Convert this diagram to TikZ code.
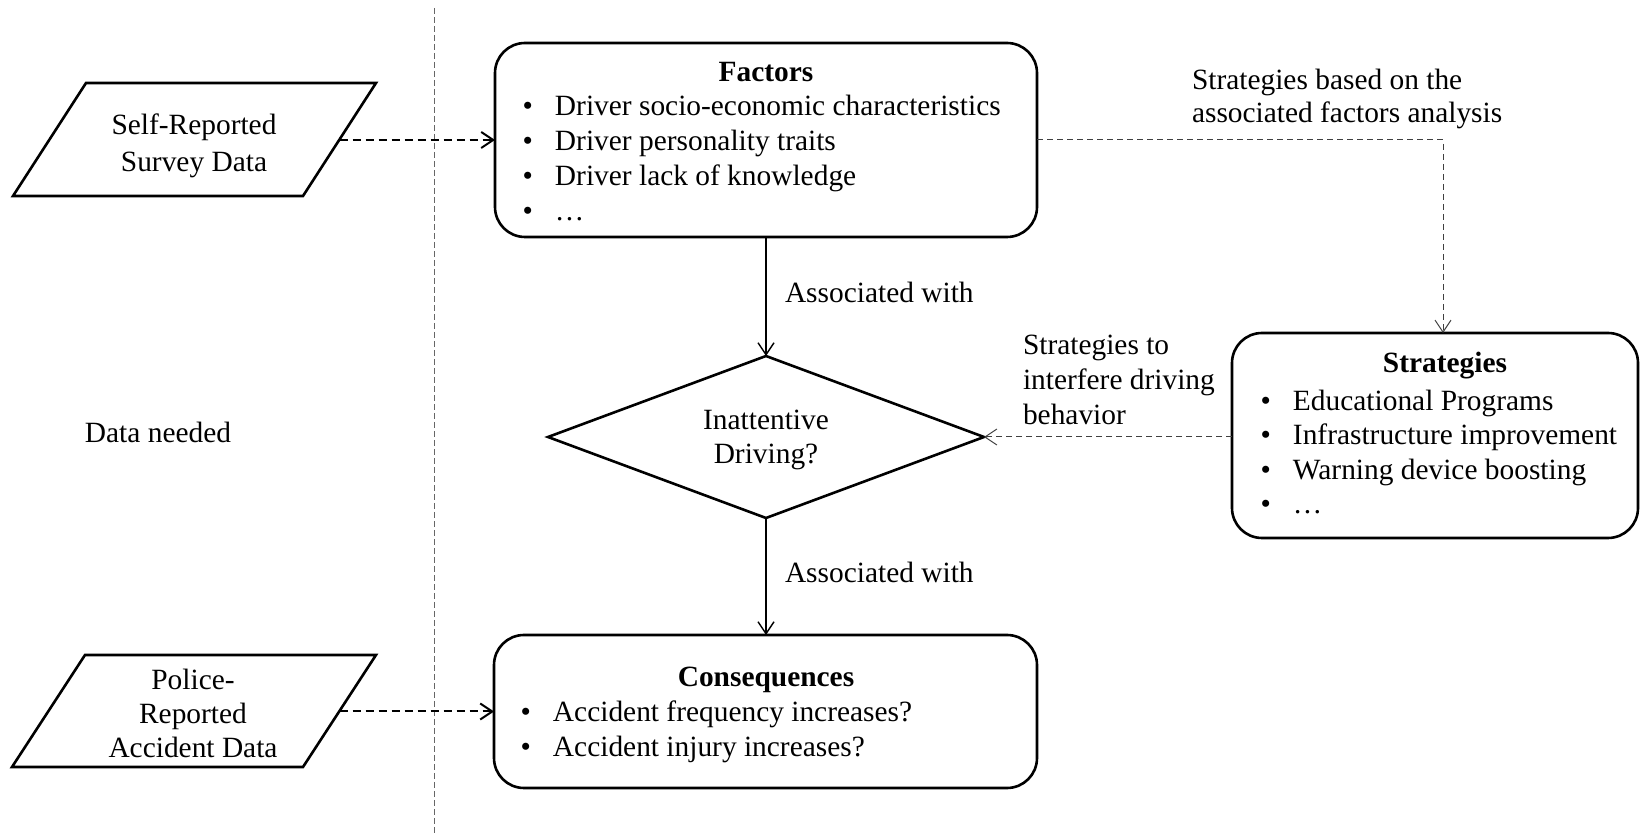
\documentclass[tikz,border=0pt]{standalone}
\usepackage{fontspec}
\setmainfont{Liberation Serif}
\usetikzlibrary{arrows.meta,shapes.geometric}
\newcommand\mybul{\llap{\textbullet\hspace{11pt}}}
\begin{document}
\begin{tikzpicture}[x=0.5pt,y=-0.5pt,
  font=\fontsize{14.7}{17.5}\selectfont,
  every node/.style={inner sep=0pt, outer sep=0pt},
  box/.style={draw, line width=1.3pt, rounded corners=15pt, rectangle},
  diashape/.style={draw, line width=1.3pt, diamond},
  paral/.style={draw, line width=1.3pt, line join=miter},
  txt/.style={anchor=base},
  txtl/.style={anchor=base west},
  ttl/.style={anchor=base, font=\fontsize{14.7}{17.5}\selectfont\bfseries},
  tip/.style={-{Straight Barb[length=6pt,width=8pt]}},
  solidc/.style={tip, line width=0.7pt},
  thickdash/.style={tip, line width=1pt, dash pattern=on 4pt off 2.5pt},
  thindash/.style={tip, line width=0.5pt, dash pattern=on 3pt off 2pt, draw=black!75},
  divider/.style={line width=0.5pt, dash pattern=on 3pt off 1.5pt, draw=black!60}
]
\useasboundingbox (0,0) rectangle (1640,833);

% divider
\coordinate (dtop) at (434,8);
\coordinate (dbot) at (434,833);
\draw[divider] (dtop) -- (dbot);

% parallelograms
\coordinate (p1a) at (86,83);
\coordinate (p1b) at (376,83);
\coordinate (p1c) at (303,196);
\coordinate (p1d) at (13,196);
\draw[paral] (p1a) -- (p1b) -- (p1c) -- (p1d) -- cycle;
\coordinate (p1e) at (339.5,140);

\coordinate (p2a) at (85,655);
\coordinate (p2b) at (376,655);
\coordinate (p2c) at (303,767);
\coordinate (p2d) at (12,767);
\draw[paral] (p2a) -- (p2b) -- (p2c) -- (p2d) -- cycle;
\coordinate (p2e) at (339.5,711.5);

\node[txt] (s1) at (194,135) {Self-Reported};
\node[txt] (s2) at (194,172) {Survey Data};
\node[txt] (r1) at (193,690) {Police-};
\node[txt] (r2) at (193,724) {Reported};
\node[txt] (r3) at (193,758) {Accident Data};
\node[txt] (dn) at (158,443) {Data needed};

% boxes
\node[box, minimum width=271pt, minimum height=97pt] (factors) at (766,140) {};
\node[box, minimum width=271.5pt, minimum height=76.5pt] (cons) at (765.5,711.5) {};
\node[box, minimum width=203pt, minimum height=102.5pt] (strat) at (1435,435.5) {};
\node[diashape, minimum width=218pt, minimum height=81pt] (decision) at (766,437) {};

% factors text
\node[ttl] (ft) at (766,82) {Factors};
\node[txtl] (f1) at (555,116) {\mybul Driver socio-economic characteristics};
\node[txtl] (f2) at (555,151) {\mybul Driver personality traits};
\node[txtl] (f3) at (555,186) {\mybul Driver lack of knowledge};
\node[txtl] (f4) at (555,221) {\mybul \dots};

% consequences text
\node[ttl] (ct) at (766,687) {Consequences};
\node[txtl] (c1) at (553,722) {\mybul Accident frequency increases?};
\node[txtl] (c2) at (553,757) {\mybul Accident injury increases?};

% strategies text
\node[ttl] (st) at (1445,373) {Strategies};
\node[txtl] (t1) at (1293,411) {\mybul Educational Programs};
\node[txtl] (t2) at (1293,445) {\mybul Infrastructure improvement};
\node[txtl] (t3) at (1293,480) {\mybul Warning device boosting};
\node[txtl] (t4) at (1293,514) {\mybul \dots};

% diamond text
\node[txt] (d1) at (766,430) {Inattentive};
\node[txt] (d2) at (766,464) {Driving?};

% labels
\node[txtl] (a1) at (785,303) {Associated with};
\node[txtl] (a2) at (785,583) {Associated with};
\node[txtl] (b1) at (1192,90) {Strategies based on the};
\node[txtl] (b2) at (1192,123) {associated factors analysis};
\node[txtl] (i1) at (1023,355) {Strategies to};
\node[txtl] (i2) at (1023,390) {interfere driving};
\node[txtl] (i3) at (1023,425) {behavior};

% connectors
\draw[thickdash] (p1e) -- (factors.west);
\draw[thickdash] (p2e) -- (cons.west);
\draw[solidc] (factors.south) -- (decision.north);
\draw[solidc] (decision.south) -- (decision.south |- cons.north);
\draw[thindash] (factors.east) -| ([xshift=4pt]strat.north);
\draw[thindash] (decision.east -| strat.west) -- (decision.east);
\end{tikzpicture}
\end{document}
